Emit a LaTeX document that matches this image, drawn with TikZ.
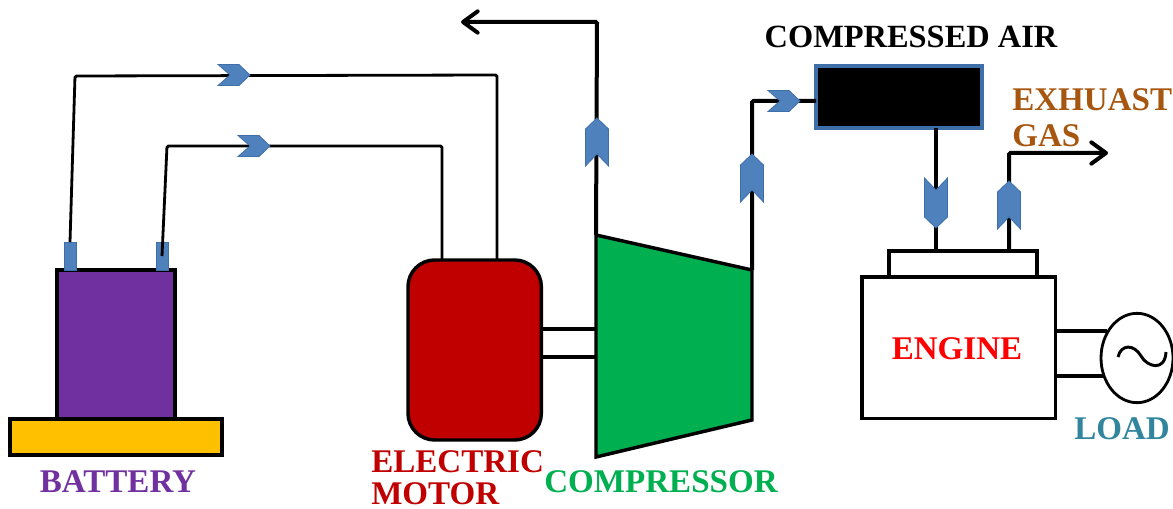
\documentclass[tikz,border=0pt]{standalone}
\usepackage{fontspec}
\setmainfont{Liberation Serif}
\usetikzlibrary{positioning, arrows.meta, shapes.geometric}
\definecolor{batteryPurple}{HTML}{7030A0}
\definecolor{baseYellow}{HTML}{FFC000}
\definecolor{motorRed}{HTML}{C00000}
\definecolor{compGreen}{HTML}{00B050}
\definecolor{markBlue}{HTML}{4F81BD}
\definecolor{markEdge}{HTML}{3F6FA8}
\definecolor{gasBrown}{HTML}{A6560F}
\definecolor{loadTeal}{HTML}{31859C}
\tikzset{
  % Filled and plain boxes
  box/.style={
    draw, line width=2.6pt, inner sep=0pt, outer sep=0pt, anchor=north west
  },
  terminal/.style={
    fill=markBlue, draw=markEdge, line width=0.5pt, inner sep=0pt, outer sep=0pt,
    minimum width=9pt, minimum height=21pt
  },
  % Wires and pipes
  wire/.style={
    line width=2.1pt, rounded corners=1pt
  },
  shaft/.style={
    line width=2.3pt
  },
  pipe/.style={
    line width=3pt, rounded corners=1pt
  },
  flowout/.style={
    pipe, -{Straight Barb[length=11pt,width=16pt,round]}
  },
  % Labels
  tag/.style={
    font=\fontsize{24.8}{27}\selectfont\bfseries, inner sep=0pt, align=left
  },
}
\newcommand{\flowmark}[5]{%
  \begin{scope}[shift={(#2)}, rotate=#3]
    \draw[fill=markBlue, draw=markEdge, line width=0.6pt]
      ({-#4},{-#5}) -- ({#4-11},{-#5}) -- (#4,0) -- ({#4-11},#5) -- ({-#4},#5) -- ({-#4+12},0) -- cycle;
    \coordinate (#1) at (0,0);
  \end{scope}
}

\begin{document}
\begin{tikzpicture}[x=0.75pt, y=-0.75pt]
  \useasboundingbox (0,0) rectangle (1173,509);

  %% -- Battery --
  \node[box, fill=batteryPurple, minimum width=88.5pt, minimum height=112pt] (battery) at (57,270) {};
  \node[box, fill=baseYellow, minimum width=159pt, minimum height=27pt, anchor=north] (base) at (116,419) {};
  \node[terminal, anchor=south] (termA) at (70,270) {};
  \node[terminal, anchor=south] (termB) at (162,270) {};

  %% -- Motor and compressor --
  \node[box, fill=motorRed, rounded corners=20pt, minimum width=100pt, minimum height=135pt] (motor) at (408,260) {};
  \coordinate (compIn) at (596,235);
  \coordinate (compOutTop) at (752,270);
  \draw[fill=compGreen, line width=2.6pt] (compIn) -- (compOutTop) -- (752,420) -- (596,457) -- cycle;

  %% -- Air store and engine --
  \node[box, fill=black, draw=markEdge, minimum width=124.5pt, minimum height=46.5pt] (store) at (816,66) {};
  \node[box, minimum width=111pt, minimum height=20pt] (intake) at (889,251) {};
  \node[box, minimum width=145pt, minimum height=106pt] (engine) at (862,277) {};
  \node[draw, ellipse, line width=2.1pt, inner sep=0pt, minimum width=54pt, minimum height=67pt] (load) at (1137,358) {};
  \draw[line width=2.2pt] (1118,357) .. controls (1121,344) and (1134,344) .. (1141,356)
    .. controls (1147,367) and (1165,372) .. (1166,352);

  %% -- Bends --
  \coordinate (bendA) at (75,76);
  \coordinate (bendB) at (167,146);
  \coordinate (exitTop) at (461,22);
  \coordinate (exitGas) at (1108,153);
  \coordinate (compOut) at (752,101);

  %% -- Wires --
  \draw[wire] (termA.north) -- (bendA) -- (497,75) -- (497,260);
  \draw[wire] (termB.center) -- (bendB) -- (442,146) -- (442,260);

  %% -- Shafts --
  \draw[shaft] (541,329) -- (596,329);
  \draw[shaft] (541,357) -- (596,357);
  \draw[shaft] (engine.east |- 0,331) -- (1107,331);
  \draw[shaft] (engine.east |- 0,376) -- (1104,376);

  %% -- Pipes --
  \draw[flowout] (compIn) -- (597,22) -- (exitTop);
  \draw[pipe] (compOutTop) -- (compOut) -- (store.west |- compOut);
  \draw[pipe] (936,128) -- (936,251);
  \draw[flowout] (1009,251) -- (1009,153) -- (exitGas);

  %% -- Flow marks --
  \flowmark{markA}{234,75}{0}{16}{10.5}
  \flowmark{markB}{254,146}{0}{16}{10.5}
  \flowmark{markC}{597,142}{90}{24}{11.5}
  \flowmark{markD}{752,178}{90}{24}{11.5}
  \flowmark{markE}{784,101}{0}{16}{10.5}
  \flowmark{markF}{936,203}{-90}{25}{11.5}
  \flowmark{markG}{1009,205}{90}{24}{11.5}

  %% -- Labels --
  \node[tag, text=batteryPurple] (batteryText) at (118,482) {BATTERY};
  \node[tag, text=motorRed, anchor=base west] (motorText) at (371,504) {ELECTRIC\\[-3pt]MOTOR};
  \node[tag, text=compGreen] (compText) at (661,482) {COMPRESSOR};
  \node[tag, font=\fontsize{24.3}{27}\selectfont\bfseries] (storeText) at (911,37) {COMPRESSED AIR};
  \node[tag, text=gasBrown, anchor=base west] (gasText) at (1012,147) {EXHUAST\\GAS};
  \node[tag, text=red] (engineText) at (957,349) {ENGINE};
  \node[tag, text=loadTeal] (loadText) at (1122,429) {LOAD};

\end{tikzpicture}
\end{document}
